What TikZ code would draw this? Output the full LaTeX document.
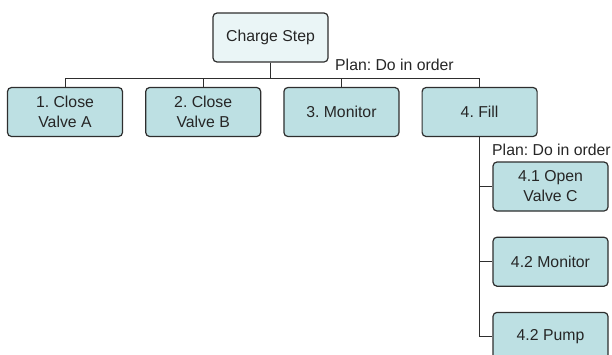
\documentclass[tikz,border=0pt]{standalone}
\usepackage{fontspec}
\setmainfont{Liberation Sans}
\frenchspacing
\usetikzlibrary{positioning}
\definecolor{topfill}{HTML}{EAF5F6}
\definecolor{taskfill}{HTML}{BDE0E3}
\definecolor{edgegray}{HTML}{2E2E2E}
\tikzset{
block/.style = {draw=edgegray, fill=taskfill, rounded corners=4pt, line width=1.2pt, minimum height=49pt, minimum width=115pt, align=center, text=black!85, font=\fontsize{15.8}{20}\selectfont},
goal/.style = {block, fill=topfill},
plan/.style = {anchor=west, inner sep=0pt, text=black!85, font=\fontsize{15.8}{18}\selectfont},
link/.style = {draw=edgegray, line width=1pt}
}
\begin{document}
\begin{tikzpicture}[x=1pt, y=1pt, node distance=22pt]
        \useasboundingbox (0,0) rectangle (612,-354);
        \node [goal] (charge) at (270.5,-37.5) {Charge Step};
        \node [block] (close_a) at (65,-112) {1. Close\\Valve A};
        \node [block, right=of close_a] (close_b) {2. Close\\Valve B};
        \node [block, right=of close_b] (monitor) {3. Monitor};
        \node [block, right=of monitor] (fill) {4. Fill};
        \node [block] (open_c) at (550.5,-186.5) {4.1 Open\\Valve C};
        \node [block, below=25pt of open_c] (monitor2) {4.2 Monitor};
        \node [block, below=25pt of monitor2] (pump) {4.2 Pump};
        \node [plan] (plan1) at (335,-65) {Plan: Do in order};
        \node [plan] (plan2) at (492,-150) {Plan: Do in order};
        % top level
        \foreach \t in {close_a, close_b, monitor, fill}
            \draw [link] (charge.south) -- ++(0,-16) -| (\t.north);
        % sub steps of fill
        \foreach \t in {open_c, monitor2, pump}
            \draw [link] (fill.south) |- (\t.west);
\end{tikzpicture}
\end{document}
